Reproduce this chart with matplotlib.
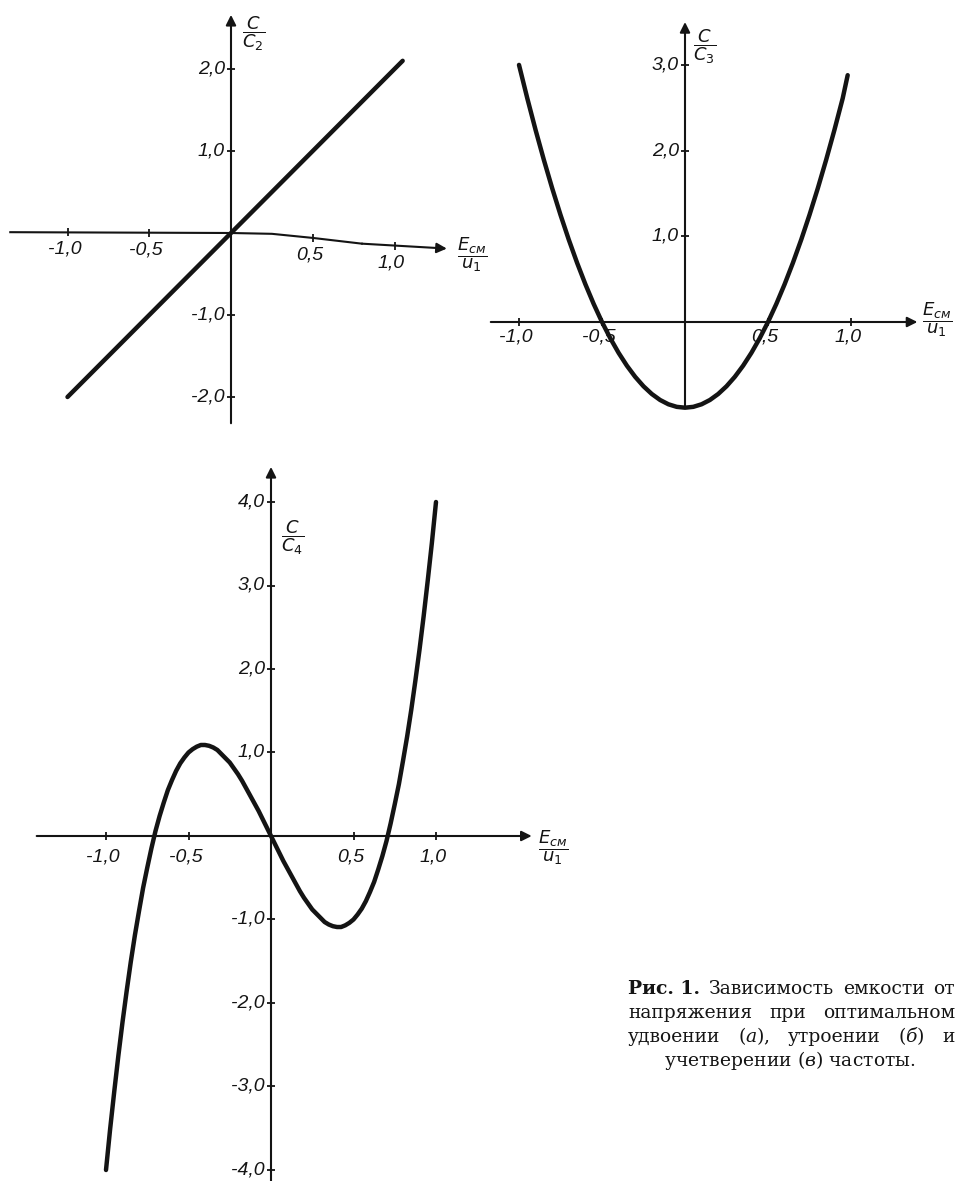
import matplotlib.pyplot as plt
import numpy as np

W, H = 957, 1181

# (а) C/C2 against E_см/u1 - straight line
lin_x = [-1.0, 0.0, 1.05]
lin_y = [-2.0, 0.0, 2.1]

# (б) C/C3 - parabola
par_x = [-1.00, -0.95, -0.90, -0.85, -0.80, -0.75, -0.70, -0.65, -0.60, -0.55,
         -0.50, -0.45, -0.40, -0.35, -0.30, -0.25, -0.20, -0.15, -0.10, -0.05,
         0.00, 0.05, 0.10, 0.15, 0.20, 0.25, 0.30, 0.35, 0.40, 0.45,
         0.50, 0.55, 0.60, 0.65, 0.70, 0.75, 0.80, 0.85, 0.90, 0.95, 0.98]
par_y = [3.00, 2.61, 2.24, 1.89, 1.56, 1.25, 0.96, 0.69, 0.44, 0.21,
         0.00, -0.19, -0.36, -0.51, -0.64, -0.75, -0.84, -0.91, -0.96, -0.99,
         -1.00, -0.99, -0.96, -0.91, -0.84, -0.75, -0.64, -0.51, -0.36, -0.19,
         0.00, 0.21, 0.44, 0.69, 0.96, 1.25, 1.56, 1.89, 2.24, 2.61, 2.88]

# (в) C/C4 - cubic
cub_x = [-1.000, -0.975, -0.950, -0.925, -0.900, -0.875, -0.850, -0.825, -0.800, -0.775,
         -0.750, -0.725, -0.700, -0.675, -0.650, -0.625, -0.600, -0.575, -0.550, -0.525,
         -0.500, -0.475, -0.450, -0.425, -0.400, -0.375, -0.350, -0.325, -0.300, -0.275,
         -0.250, -0.225, -0.200, -0.175, -0.150, -0.125, -0.100, -0.075, -0.050, -0.025,
         0.000, 0.025, 0.050, 0.075, 0.100, 0.125, 0.150, 0.175, 0.200, 0.225,
         0.250, 0.275, 0.300, 0.325, 0.350, 0.375, 0.400, 0.425, 0.450, 0.475,
         0.500, 0.525, 0.550, 0.575, 0.600, 0.625, 0.650, 0.675, 0.700, 0.725,
         0.750, 0.775, 0.800, 0.825, 0.850, 0.875, 0.900, 0.925, 0.950, 0.975, 1.000]
cub_y = [-4.00, -3.51, -3.06, -2.63, -2.23, -1.86, -1.51, -1.19, -0.90, -0.62,
         -0.38, -0.15, 0.06, 0.24, 0.40, 0.55, 0.67, 0.78, 0.87, 0.94,
         1.00, 1.04, 1.07, 1.09, 1.09, 1.08, 1.06, 1.03, 0.98, 0.93,
         0.88, 0.81, 0.74, 0.66, 0.57, 0.48, 0.39, 0.30, 0.20, 0.10,
         0.00, -0.10, -0.20, -0.30, -0.39, -0.48, -0.57, -0.66, -0.74, -0.81,
         -0.88, -0.93, -0.98, -1.03, -1.06, -1.08, -1.09, -1.09, -1.07, -1.04,
         -1.00, -0.94, -0.87, -0.78, -0.67, -0.55, -0.40, -0.24, -0.06, 0.15,
         0.38, 0.62, 0.90, 1.19, 1.51, 1.86, 2.23, 2.63, 3.06, 3.51, 4.00]

x_ticks = [-1.0, -0.5, 0.5, 1.0]
x_tick_labels = ['-1,0', '-0,5', '0,5', '1,0']
a_y_ticks = [2.0, 1.0, -1.0, -2.0]
a_y_labels = ['2,0', '1,0', '-1,0', '-2,0']
b_y_ticks = [3.0, 2.0, 1.0]
b_y_labels = ['3,0', '2,0', '1,0']
c_y_ticks = [4.0, 3.0, 2.0, 1.0, -1.0, -2.0, -3.0, -4.0]
c_y_labels = ['4,0', '3,0', '2,0', '1,0', '-1,0', '-2,0', '-3,0', '-4,0']

# the x axis of panel (а) sags a little on the right
a_axis_x = [-1.35, 0.0, 0.25, 0.5, 0.8, 1.32]
a_axis_y = [0.01, 0.0, -0.01, -0.06, -0.13, -0.19]

caption = [
    ['Рис. 1.', 'Зависимость', 'емкости', 'от'],
    ['напряжения', 'при', 'оптимальном'],
    ['удвоении', r'($\mathit{а}$),', 'утроении', r'($\mathit{б}$)', 'и'],
]
caption_last = r'учетверении ($\mathit{в}$) частоты.'

INK = '#141414'
TICK_FONT = dict(family=['Liberation Sans', 'DejaVu Sans'], style='italic',
                 size=14, color=INK)

fig = plt.figure(figsize=(W / 100, H / 100), dpi=100)


def panel(ox, oy, ux, uy, xlim, ylim):
    # place an axes so that data (0, 0) lands on pixel (ox, oy)
    left = ox + xlim[0] * ux
    right = ox + xlim[1] * ux
    top = oy - ylim[1] * uy
    bottom = oy - ylim[0] * uy
    ax = fig.add_axes([left / W, 1 - bottom / H, (right - left) / W, (bottom - top) / H])
    ax.set_xlim(*xlim)
    ax.set_ylim(*ylim)
    ax.axis('off')
    return ax


def arrow(ax, p0, p1):
    ax.annotate('', xy=p1, xytext=p0, annotation_clip=False,
                arrowprops=dict(arrowstyle='-|>', color=INK, lw=1.5,
                                mutation_scale=15, shrinkA=0, shrinkB=0))


def ticks(ax, xt, xl, yt, yl, xy_base=None, xoff=(-3, -17), yoff=(-6, 0)):
    if xy_base is None:
        xy_base = [0.0] * len(xt)
    ax.plot(xt, xy_base, ls='none', marker='|', ms=6, mew=1.3, color=INK)
    for t, b, s in zip(xt, xy_base, xl):
        ax.annotate(s, (t, b), xytext=xoff, textcoords='offset pixels',
                    ha='center', va='center', **TICK_FONT)
    ax.plot([0.0] * len(yt), yt, ls='none', marker='_', ms=6, mew=1.3, color=INK)
    for t, s in zip(yt, yl):
        ax.annotate(s, (0, t), xytext=yoff, textcoords='offset pixels',
                    ha='right', va='center', **TICK_FONT)


def frac(ax, x, y, s, size=13):
    ax.annotate(s, (x, y), xycoords='figure pixels', ha='center', va='center',
                fontsize=size, color=INK, math_fontfamily='dejavusans')


LABEL_X = r'$\dfrac{E_{см}}{u_1}$'

# (а)
ax = panel(231, 233, 163.5, 82, (-1.4, 1.5), (-2.4, 2.75))
ax.plot(a_axis_x[:-1], a_axis_y[:-1], color=INK, lw=1.5)
arrow(ax, (a_axis_x[-2], a_axis_y[-2]), (a_axis_x[-1], a_axis_y[-1]))
arrow(ax, (0, -2.32), (0, 2.66))
sag = list(np.interp(x_ticks, a_axis_x, a_axis_y))
ticks(ax, x_ticks, x_tick_labels, a_y_ticks, a_y_labels, xy_base=sag)
ax.plot(lin_x, lin_y, color=INK, lw=3.2, solid_capstyle='round')
frac(ax, 254, H - 34, r'$\dfrac{C}{C_2}$')
frac(ax, 472, H - 255, LABEL_X)

# (б)
ax = panel(685, 322, 166, 85.7, (-1.25, 1.5), (-1.2, 3.7))
arrow(ax, (-1.17, 0), (1.40, 0))
ax.plot([0, 0], [-0.97, 3.0], color=INK, lw=1.5)
arrow(ax, (0, 3.0), (0, 3.50))
ticks(ax, x_ticks, x_tick_labels, b_y_ticks, b_y_labels, xoff=(-3, -15))
ax.plot(par_x, par_y, color=INK, lw=3.2, solid_capstyle='round')
frac(ax, 705, H - 47, r'$\dfrac{C}{C_3}$')
frac(ax, 937, H - 320, LABEL_X)

# (в)
ax = panel(271, 836, 165, 83.5, (-1.5, 1.8), (-4.3, 4.5))
arrow(ax, (-1.42, 0), (1.58, 0))
ax.plot([0, 0], [-4.3, 4.0], color=INK, lw=1.5)
arrow(ax, (0, 4.0), (0, 4.42))
ticks(ax, x_ticks, x_tick_labels, c_y_ticks, c_y_labels, xoff=(-3, -21))
ax.plot(cub_x, cub_y, color=INK, lw=3.2, solid_capstyle='round')
frac(ax, 293, H - 538, r'$\dfrac{C}{C_4}$')
frac(ax, 553, H - 848, LABEL_X)

# caption, justified between two edges
cap_font = dict(family='DejaVu Serif', size=13.5, color=INK,
                math_fontfamily='dejavuserif', va='baseline')
x0, x1 = 628, 955
renderer = fig.canvas.get_renderer()
for i, words in enumerate(caption):
    base = H - (994 + 24 * i)
    items = []
    for w in words:
        weight = 'bold' if w.startswith('Рис') else 'normal'
        items.append(fig.text(0, base / H, w, fontweight=weight, **cap_font))
    widths = [t.get_window_extent(renderer).width for t in items]
    gap = (x1 - x0 - sum(widths)) / (len(items) - 1)
    x = x0
    for t, w in zip(items, widths):
        t.set_x(x / W)
        x += w + gap
fig.text(790 / W, (H - (994 + 24 * 3)) / H, caption_last, ha='center', **cap_font)

fig.savefig('out.png', dpi=100, facecolor='white')
